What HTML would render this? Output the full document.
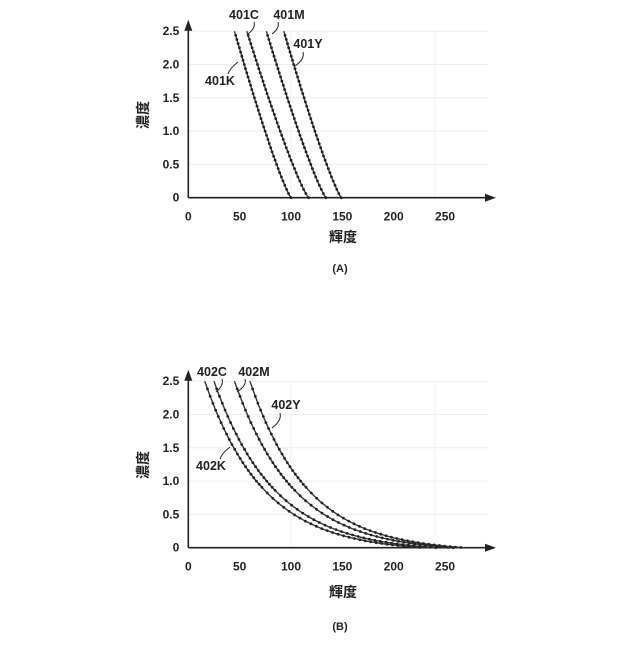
<!DOCTYPE html>
<html><head><meta charset="utf-8"><style>
html,body{margin:0;padding:0;background:#fff;}
svg text{font-family:"Liberation Sans","Noto Sans CJK TC",sans-serif;font-weight:bold;fill:#222;}
</style></head><body>
<svg id="s" width="640" height="640" viewBox="0 0 640 640" xmlns="http://www.w3.org/2000/svg"></svg>
<script>
const s=document.getElementById('s');let h='';
const sx=1.027, sy=66.6;
function chart(oy,curves,isB){
  const ox=188.3;
  for(let i=1;i<=5;i++){const y=oy-i*0.5*sy;h+=`<line x1="${ox}" y1="${y}" x2="488" y2="${y}" stroke="#eee" stroke-width="1"/>`;}
  h+=`<line x1="${ox+100*sx}" y1="${oy-2.5*sy}" x2="${ox+100*sx}" y2="${oy}" stroke="#f2f2f2"/>`;
  h+=`<line x1="${ox+240*sx}" y1="${oy-2.5*sy}" x2="${ox+240*sx}" y2="${oy}" stroke="#f2f2f2"/>`;
  h+=`<line x1="${ox}" y1="${oy}" x2="488" y2="${oy}" stroke="#222" stroke-width="1.6"/>`;
  h+=`<polygon points="496,${oy} 485,${oy-4} 485,${oy+4}" fill="#222"/>`;
  h+=`<line x1="${ox}" y1="${oy}" x2="${ox}" y2="${oy-172}" stroke="#222" stroke-width="1.6"/>`;
  h+=`<polygon points="${ox},${oy-178} ${ox-4},${oy-167} ${ox+4},${oy-167}" fill="#222"/>`;
  ['0','0.5','1.0','1.5','2.0','2.5'].forEach((t,i)=>{h+=`<text x="${ox-9}" y="${oy-i*0.5*sy+4}" font-size="12" text-anchor="end">${t}</text>`;});
  [0,50,100,150,200,250].forEach(v=>{h+=`<text x="${ox+v*sx}" y="${oy+23}" font-size="12" text-anchor="middle">${v}</text>`;});
  curves.forEach(c=>{
    let pts=[];
    const k=0.27,e1=Math.exp(-1/k),A=2.5/(1-e1);
    for(let j=0;j<=80;j++){const t=j/80;let x,d;
      if(!isB){d=2.5*(1-t);x=c[1]-(c[1]-c[0])*Math.pow(d/2.5,0.85);}
      else{x=c[0]+(c[1]-c[0])*t;d=A*(Math.exp(-t/k)-e1);}
      pts.push([ox+x*sx,oy-d*sy]);}
    h+=`<polyline points="${pts.map(p=>p[0].toFixed(1)+','+p[1].toFixed(1)).join(' ')}" fill="none" stroke="#333" stroke-width="1.4"/>`;
    let acc=0;for(let j=1;j<pts.length;j++){const dx=pts[j][0]-pts[j-1][0],dy=pts[j][1]-pts[j-1][1];acc+=Math.hypot(dx,dy);if(acc>4){acc=0;h+=`<circle cx="${pts[j][0].toFixed(1)}" cy="${pts[j][1].toFixed(1)}" r="1.4" fill="#222"/>`;}}
  });
}
chart(197.7,[[45,100],[57,117],[76,134],[93,149]],false);
chart(547.7,[[16,228],[25,241],[45,258],[60,268]],true);
function lab(t,x,y,lx1,ly1,lx2,ly2){h+=`<text x="${x}" y="${y}" font-size="12.5" text-anchor="middle">${t}</text>`;h+=`<path d="M${lx1},${ly1} Q${lx1+2},${(ly1+ly2)/2} ${lx2},${ly2}" fill="none" stroke="#222" stroke-width="1"/>`;}
lab('401C',244,19,254,22,248,34);
lab('401M',289,19,278,22,272,34);
lab('401Y',308,48,303,52,295,66);
lab('401K',220,85,228,74,238,62);
lab('402C',212,376,222,379,216,392);
lab('402M',254,376,245,379,237,392);
lab('402Y',286,409,280,413,272,428);
lab('402K',211,470,220,459,230,447);
h+=`<text x="148" y="115" font-size="14" text-anchor="middle" transform="rotate(-90 148 115)">濃度</text>`;
h+=`<text x="148" y="465" font-size="14" text-anchor="middle" transform="rotate(-90 148 465)">濃度</text>`;
h+=`<text x="343" y="242" font-size="14" text-anchor="middle">輝度</text>`;
h+=`<text x="343" y="597" font-size="14" text-anchor="middle">輝度</text>`;
h+=`<text x="340" y="272" font-size="11" text-anchor="middle" font-weight="normal">(A)</text>`;
h+=`<text x="340" y="630" font-size="11" text-anchor="middle" font-weight="normal">(B)</text>`;
s.innerHTML=h;
</script>
</body></html>
